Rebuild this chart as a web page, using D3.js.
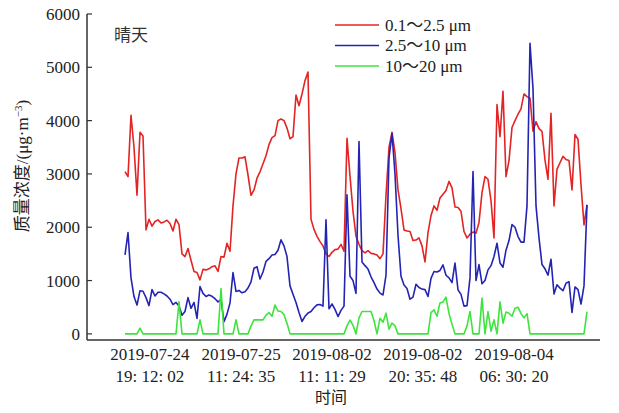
<!DOCTYPE html>
<html>
<head>
<meta charset="utf-8">
<script src="https://cdn.jsdelivr.net/npm/d3@7"></script>
<style>
  body { margin: 0; background: #fff; }
  svg { display: block; }
  text { font-family: "Liberation Serif", "Noto Sans CJK SC", serif; fill: #222; }
</style>
</head>
<body>
<svg id="chart" width="619" height="413"></svg>
<script>
// tick labels along the time axis (sample index where each label sits)
const tickLabels = [
  ["2019-07-24", "19: 12: 02"],
  ["2019-07-25", "11: 24: 35"],
  ["2019-08-02", "11: 11: 29"],
  ["2019-08-02", "20: 35: 48"],
  ["2019-08-04", "06: 30: 20"]
];
const tickIdx = [8.3, 38.7, 69, 99.3, 129.7];
const yTicks = [0, 1000, 2000, 3000, 4000, 5000, 6000];

const seriesNames = ["0.1～2.5 μm", "2.5～10 μm", "10～20 μm"];
const seriesColors = ["#e42424", "#2424b4", "#3ee43e"];

// PM 0.1-2.5 µm
const pm1 = [
  3045, 2950, 4100, 3500, 2600, 3780, 3710, 1951, 2150, 2020,
  2107, 2139, 2080, 2100, 2130, 2070, 1930, 2150, 2050, 1500,
  1450, 1600, 1380, 1170, 1150, 1013, 1210, 1200, 1220, 1260,
  1276, 1170, 1450, 1440, 1700, 1550, 2400, 3000, 3300, 3300,
  3320, 2980, 2600, 2700, 2920, 3040, 3190, 3340, 3550, 3680,
  3720, 4000, 4030, 4000, 3860, 3660, 3700, 4480, 4280, 4500,
  4750, 4910, 2150, 1960, 1830, 1730, 1650, 1500, 1451, 1530,
  1580, 1590, 1680, 1550, 3670, 2960, 2300, 1830, 1680, 1560,
  1520, 1560, 1510, 1500, 1480, 1410, 1500, 2600, 3500, 3780,
  3400, 2700, 2350, 1950, 1930, 1920, 1750, 1760, 1800, 1650,
  1350, 1900, 2220, 2400, 2320, 2550, 2620, 2690, 2860, 2740,
  2380, 2370, 2300, 1920, 1800, 1870, 1910, 1890, 2090, 2650,
  2950, 2900, 2500, 1800, 4300, 3700, 4550, 2950, 3250, 3870,
  4000, 4120, 4220, 4500, 4450, 4421, 3800, 3980, 3850, 3800,
  3260, 2900, 4139, 2400, 3090, 3210, 3330, 3270, 3250, 2700,
  3740, 3650, 2800, 2045, 2420
];

// PM 2.5-10 µm
const pm2 = [
  1482, 1900, 1050, 700, 540, 810, 800, 680, 530, 830,
  710, 780, 780, 750, 710, 650, 550, 590, 525, 350,
  420, 680, 480, 590, 290, 888, 760, 701, 730, 705,
  660, 600, 640, 230, 370, 580, 1150, 795, 815, 770,
  790, 860, 975, 1230, 1260, 1030, 1160, 1360, 1410, 1480,
  1490, 1570, 1764, 1650, 1450, 900, 745, 590, 400, 232,
  330, 390, 420, 490, 545, 550, 520, 2139, 470, 560,
  460, 325, 440, 520, 2608, 1080, 1000, 760, 3608, 1350,
  1280, 1215, 1070, 960, 840, 764, 730, 1100, 3300, 3760,
  3000, 1850, 1080, 915, 850, 650, 690, 930, 870, 840,
  830, 701, 1040, 1170, 1160, 1190, 1294, 1100, 1050, 960,
  1330, 826, 740, 520, 530, 1050, 3045, 1000, 1300, 940,
  1000, 1200, 1280, 1451, 1700, 1330, 1250, 1570, 1750, 2050,
  2000, 1826, 1720, 1720, 2400, 5450, 4600, 2400, 1800, 1300,
  1220, 1100, 1400, 750, 920, 858, 810, 950, 980, 400,
  880, 830, 560, 900, 2420
];

// PM 10-20 µm
const pm3 = [
  0, 0, 0, 0, 0, 107, 0, 0, 0, 0,
  0, 0, 0, 0, 0, 0, 0, 0, 600, 0,
  0, 0, 0, 0, 0, 263, 0, 0, 0, 0,
  0, 0, 850, 0, 0, 0, 0, 263, 0, 0,
  0, 0, 150, 263, 263, 263, 263, 350, 400, 330,
  540, 430, 419, 360, 200, 0, 0, 0, 0, 0,
  0, 0, 0, 0, 0, 0, 0, 0, 0, 0,
  0, 0, 0, 0, 150, 260, 160, 0, 300, 419,
  419, 419, 419, 250, 0, 294, 220, 388, 90, 200,
  150, 0, 0, 0, 0, 0, 0, 0, 0, 0,
  0, 0, 400, 450, 330, 580, 600, 690, 380, 180,
  0, 0, 0, 0, 150, 419, 0, 0, 0, 670,
  0, 419, 50, 263, 0, 600, 200, 410, 388, 330,
  480, 500, 380, 300, 380, 0, 0, 0, 0, 0,
  0, 0, 0, 0, 0, 0, 0, 0, 0, 0,
  0, 0, 0, 0, 419
];

const series = [pm1, pm2, pm3];

const svg = d3.select("#chart");
const x = d3.scaleLinear().domain([0, pm1.length - 1]).range([125, 587]);
const y = d3.scaleLinear().domain([-115, 6000]).range([340, 14]);

// axes lines
svg.append("line")
  .attr("x1", 87).attr("x2", 87).attr("y1", 14).attr("y2", 340)
  .attr("stroke", "#333").attr("stroke-width", 1.5);
svg.append("line")
  .attr("x1", 87).attr("x2", 600).attr("y1", 340).attr("y2", 340)
  .attr("stroke", "#333").attr("stroke-width", 1.5);

// y ticks (inward) + labels
const yt = svg.append("g");
yt.selectAll("line").data(yTicks).enter().append("line")
  .attr("x1", 87).attr("x2", 92)
  .attr("y1", d => y(d)).attr("y2", d => y(d))
  .attr("stroke", "#333").attr("stroke-width", 1.2);
yt.selectAll("text").data(yTicks).enter().append("text")
  .attr("x", 80).attr("y", d => y(d))
  .attr("dy", "0.35em")
  .attr("text-anchor", "end")
  .style("font-size", "17px")
  .text(d => d);

// x tick labels (two lines)
const xt = svg.append("g");
tickLabels.forEach((lab, i) => {
  const t = xt.append("text")
    .attr("x", x(tickIdx[i]))
    .attr("text-anchor", "middle")
    .style("font-size", "17px");
  t.append("tspan").attr("x", x(tickIdx[i])).attr("y", 360).text(lab[0]);
  t.append("tspan").attr("x", x(tickIdx[i])).attr("y", 382).text(lab[1]);
});

// axis titles
svg.append("text")
  .attr("x", 331).attr("y", 403)
  .attr("text-anchor", "middle")
  .style("font-size", "16px")
  .text("时间");

const yTitle = svg.append("text")
  .attr("transform", "translate(28,166) rotate(-90)")
  .attr("text-anchor", "middle")
  .style("font-size", "17px");
yTitle.append("tspan").text("质量浓度/(μg·m");
yTitle.append("tspan").attr("dy", -6).style("font-size", "11px").text("−3");
yTitle.append("tspan").attr("dy", 6).text(")");

svg.append("text")
  .attr("x", 114).attr("y", 41)
  .style("font-size", "17px")
  .style("fill", "#333")
  .text("晴天");

// lines
const line = d3.line()
  .x((d, i) => x(i))
  .y(d => y(d));

svg.selectAll(".series").data(series).enter().append("path")
  .attr("class", "series")
  .attr("d", d => line(d))
  .attr("fill", "none")
  .attr("stroke", (d, i) => seriesColors[i])
  .attr("stroke-width", 1.6)
  .attr("stroke-linejoin", "round");

// legend
const lg = svg.append("g");
seriesNames.forEach((name, i) => {
  const yy = 25 + i * 20.5;
  lg.append("line")
    .attr("x1", 335).attr("x2", 379).attr("y1", yy).attr("y2", yy)
    .attr("stroke", seriesColors[i]).attr("stroke-width", 1.5);
  lg.append("text")
    .attr("x", 385).attr("y", yy).attr("dy", "0.35em")
    .style("font-size", "17px")
    .text(name);
});
</script>
</body>
</html>
